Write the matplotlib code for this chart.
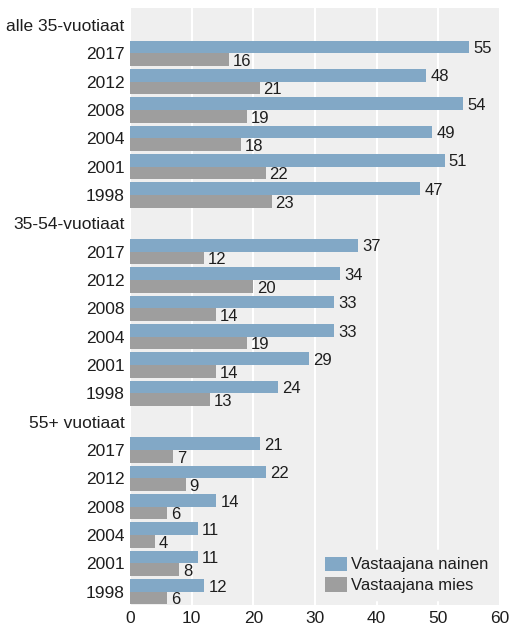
import matplotlib
matplotlib.use("Agg")
import matplotlib.pyplot as plt
import numpy as np

plt.rcParams['font.family'] = ['Liberation Sans', 'DejaVu Sans']

groups = ["alle 35-vuotiaat", "35-54-vuotiaat", "55+ vuotiaat"]
years = ["2017", "2012", "2008", "2004", "2001", "1998"]
nainen = [
    [55, 48, 54, 49, 51, 47],
    [37, 34, 33, 33, 29, 24],
    [21, 22, 14, 11, 11, 12],
]
mies = [
    [16, 21, 19, 18, 22, 23],
    [12, 20, 14, 19, 14, 13],
    [7, 9, 6, 4, 8, 6],
]
series_names = ["Vastaajana nainen", "Vastaajana mies"]
xticks = [0, 10, 20, 30, 40, 50, 60]

c_blue = "#82a8c6"
c_gray = "#9e9e9e"
bg = "#efefef"
txt = "#1e1e1e"

fig = plt.figure(figsize=(5.09, 6.28), dpi=100)
ax = fig.add_axes([130/509, 1-605/628, 370/509, 597/628])
ax.set_facecolor(bg)

ticks_pos = []
ticks_lab = []
h = 0.45
row = 0
first = True
for g, name in enumerate(groups):
    ticks_pos.append(row)
    ticks_lab.append(name)
    row += 1
    for k, yr in enumerate(years):
        ticks_pos.append(row)
        ticks_lab.append(yr)
        ax.barh(row - h/2, nainen[g][k], height=h, color=c_blue,
                label=series_names[0] if first else None, zorder=3)
        ax.barh(row + h/2, mies[g][k], height=h, color=c_gray,
                label=series_names[1] if first else None, zorder=3)
        first = False
        ax.text(nainen[g][k] + 0.7, row - h/2 + 0.06, str(nainen[g][k]),
                va='center', ha='left', fontsize=12, color=txt, zorder=4)
        ax.text(mies[g][k] + 0.6, row + h/2 + 0.06, str(mies[g][k]),
                va='center', ha='left', fontsize=12, color=txt, zorder=4)
        row += 1

ax.set_ylim(row - 1 + h + 0.02, -0.6)
ax.set_xlim(0, 60)
ax.set_yticks(ticks_pos)
ax.set_yticklabels(ticks_lab, fontsize=12.5, color=txt)
ax.set_xticks(xticks)
ax.set_xticklabels([str(t) for t in xticks], fontsize=12.5, color=txt)
ax.tick_params(axis='both', length=0)
ax.tick_params(axis='y', pad=4)
ax.tick_params(axis='x', pad=4.5)
ax.grid(axis='x', color='white', linewidth=1.5, zorder=1)
ax.set_axisbelow(True)
for s in ax.spines.values():
    s.set_visible(False)

leg = ax.legend(loc='lower right', frameon=True, fontsize=12,
                handlelength=1.3, handleheight=0.95, handletextpad=0.25,
                borderaxespad=0.3, borderpad=0.4, labelspacing=0.3)
leg.get_frame().set_facecolor(bg)
leg.get_frame().set_edgecolor(bg)
leg.get_frame().set_alpha(1)
for t in leg.get_texts():
    t.set_color(txt)

fig.savefig("out.png", dpi=100)
